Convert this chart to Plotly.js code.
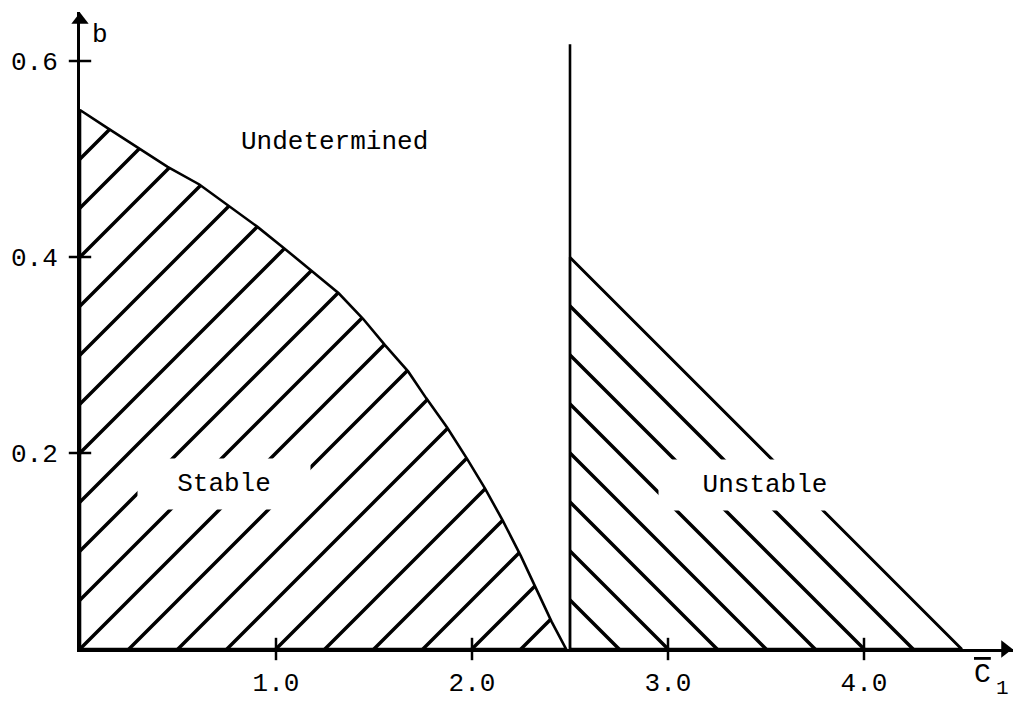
<!DOCTYPE html>
<html>
<head>
<meta charset="utf-8">
<script src="https://cdn.plot.ly/plotly-3.0.1.min.js"></script>
<style>
  html, body { margin: 0; padding: 0; background: #fff; }
  #chart { width: 1015px; height: 705px; }
</style>
</head>
<body>
<div id="chart"></div>
<script>
// Stability boundary b(C1) of the stable region
const STABLE_C1 = [0, 0.137, 0.294, 0.447, 0.609, 0.756, 0.904, 1.041, 1.178, 1.320,
                   1.444, 1.556, 1.675, 1.766, 1.873, 1.975, 2.066, 2.157, 2.249, 2.325, 2.406, 2.48];
const STABLE_B  = [0.55, 0.532, 0.512, 0.492, 0.474, 0.453, 0.431, 0.409, 0.386, 0.363,
                   0.337, 0.310, 0.283, 0.256, 0.226, 0.194, 0.164, 0.131, 0.095, 0.063, 0.028, 0];

// Vertical boundary at C1 = 2.5
const BOUNDARY_C1 = [2.5, 2.5];
const BOUNDARY_B  = [0, 0.617];

// Unstable wedge
const UNSTABLE_C1 = [2.5, 2.5, 4.5];
const UNSTABLE_B  = [0, 0.4, 0];

// Axis ticks
const X_TICKS = [1, 2, 3, 4];
const X_TICK_TEXT = ['1.0', '2.0', '3.0', '4.0'];
const Y_TICKS = [0.2, 0.4, 0.6];
const Y_TICK_TEXT = ['0.2', '0.4', '0.6'];

// Region labels
const REGION_TEXT = ['Undetermined', 'Stable', 'Unstable'];
const REGION_C1   = [1.298, 0.735, 3.495];
const REGION_B    = [0.517, 0.168, 0.167];

const PX_PER_C1 = 196;
const PX_PER_B = 980;
const X_MAX = 933 / PX_PER_C1;
const Y_MAX = 637 / PX_PER_B;

const FONT = 'Liberation Mono, DejaVu Sans Mono, monospace';
const INK = '#000';
const HATCH = 49 / Math.SQRT2;   // pattern cell giving ~49 px between hatch lines

// close the stable polygon along the axes
const stableX = [0].concat(STABLE_C1, [0]);
const stableY = [0].concat(STABLE_B, [0]);

const tickMark = (sym) => ({
  symbol: sym, size: 16, color: INK, line: { color: INK, width: 2.5 }
});

const traces = [
  {
    type: 'scatter', mode: 'lines',
    x: stableX, y: stableY,
    fill: 'toself', fillcolor: 'rgba(0,0,0,0)',
    fillpattern: { shape: '/', size: HATCH, solidity: 0.1, fgcolor: INK, bgcolor: 'rgba(0,0,0,0)' },
    line: { color: INK, width: 2.6 },
    hoverinfo: 'skip', showlegend: false
  },
  {
    type: 'scatter', mode: 'lines',
    x: UNSTABLE_C1.concat([UNSTABLE_C1[0]]), y: UNSTABLE_B.concat([UNSTABLE_B[0]]),
    fill: 'toself', fillcolor: 'rgba(0,0,0,0)',
    fillpattern: { shape: '\\', size: HATCH, solidity: 0.1, fgcolor: INK, bgcolor: 'rgba(0,0,0,0)' },
    line: { color: INK, width: 2.3 },
    hoverinfo: 'skip', showlegend: false
  },
  {
    type: 'scatter', mode: 'lines',
    x: BOUNDARY_C1, y: BOUNDARY_B,
    line: { color: INK, width: 2.6 },
    hoverinfo: 'skip', showlegend: false
  },
  // tick marks crossing the axes
  {
    type: 'scatter', mode: 'markers',
    x: X_TICKS, y: X_TICKS.map(() => 0),
    marker: tickMark('line-ns'), cliponaxis: false, hoverinfo: 'skip', showlegend: false
  },
  {
    type: 'scatter', mode: 'markers',
    x: Y_TICKS.map(() => 0), y: Y_TICKS,
    marker: tickMark('line-ew'), cliponaxis: false, hoverinfo: 'skip', showlegend: false
  },
  // arrowheads at the ends of both axes
  {
    type: 'scatter', mode: 'markers',
    x: [X_MAX - 8 / PX_PER_C1, 0], y: [0, Y_MAX - 8 / PX_PER_B],
    marker: { symbol: ['triangle-right', 'triangle-up'], size: 15, color: INK },
    cliponaxis: false, hoverinfo: 'skip', showlegend: false
  }
];

const tickFont = { family: FONT, size: 26, color: INK };

const annotations = [
  // axis names
  { xref: 'x', yref: 'y', x: 0, y: Y_MAX, xanchor: 'left', yanchor: 'top',
    xshift: 10, yshift: -6, text: 'b', showarrow: false,
    font: { family: FONT, size: 26, color: INK } },
  { xref: 'paper', yref: 'paper', x: 1, y: 0, xanchor: 'right', yanchor: 'top',
    xshift: -20, yshift: -8, text: '<span style="text-decoration:overline">C</span>',
    showarrow: false, font: { family: FONT, size: 28, color: INK } },
  { xref: 'paper', yref: 'paper', x: 1, y: 0, xanchor: 'right', yanchor: 'top',
    xshift: -3, yshift: -27, borderpad: 0, text: '1',
    showarrow: false, font: { family: FONT, size: 21, color: INK } },
  // region names
  { xref: 'x', yref: 'y', x: REGION_C1[0], y: REGION_B[0], text: REGION_TEXT[0],
    showarrow: false, font: { family: FONT, size: 26, color: INK } },
  { xref: 'x', yref: 'y', x: REGION_C1[1], y: REGION_B[1], text: REGION_TEXT[1],
    showarrow: false, bgcolor: '#fff', width: 170, height: 48,
    font: { family: FONT, size: 26, color: INK } },
  { xref: 'x', yref: 'y', x: REGION_C1[2], y: REGION_B[2], text: REGION_TEXT[2],
    showarrow: false, bgcolor: '#fff', width: 210, height: 48,
    font: { family: FONT, size: 26, color: INK } }
];

const layout = {
  width: 1015, height: 705,
  margin: { l: 80, r: 2, t: 12, b: 56, pad: 0 },
  paper_bgcolor: '#fff', plot_bgcolor: '#fff',
  showlegend: false,
  xaxis: {
    range: [0, X_MAX], showgrid: false, zeroline: false,
    showline: true, linecolor: INK, linewidth: 3,
    ticks: 'outside', ticklen: 8, tickwidth: 2.5, tickcolor: INK,
    tickmode: 'array', tickvals: X_TICKS, ticktext: X_TICK_TEXT,
    tickfont: tickFont, ticklabelstandoff: 0
  },
  yaxis: {
    range: [0, Y_MAX], showgrid: false, zeroline: false,
    showline: true, linecolor: INK, linewidth: 3,
    ticks: 'outside', ticklen: 8, tickwidth: 2.5, tickcolor: INK,
    tickmode: 'array', tickvals: Y_TICKS, ticktext: Y_TICK_TEXT,
    tickfont: tickFont, ticklabelstandoff: 6
  },
  annotations: annotations
};

Plotly.newPlot('chart', traces, layout, { staticPlot: true, displayModeBar: false });
</script>
</body>
</html>
